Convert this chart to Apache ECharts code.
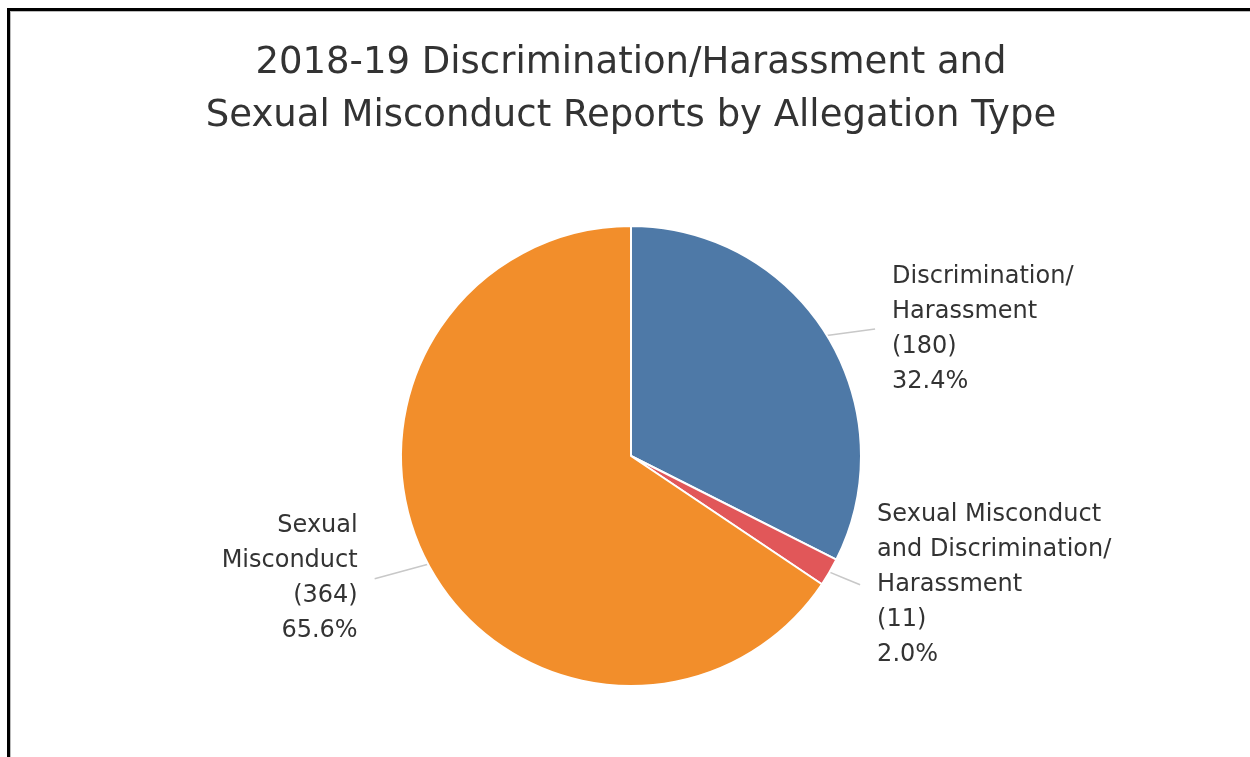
<!DOCTYPE html>
<html>
<head>
<meta charset="utf-8">
<script src="https://cdn.jsdelivr.net/npm/echarts@6/dist/echarts.min.js"></script>
<style>
  html, body { margin: 0; padding: 0; background: #fff; }
  #chart { width: 1250px; height: 757px; position: relative; }
  #frame { position: absolute; left: 7px; top: 8px; width: 1260px; height: 760px;
           border-left: 3px solid #000; border-top: 3px solid #000;
           box-shadow: inset 1px 1px 0 #bbb; pointer-events: none; z-index: 2; }
</style>
</head>
<body>
<div id="chart"></div>
<div id="frame"></div>
<script>
// ---- data ----
const titleLines = ['2018-19 Discrimination/Harassment and', 'Sexual Misconduct Reports by Allegation Type'];
const categories = ['Discrimination/Harassment', 'Sexual Misconduct and Discrimination/Harassment', 'Sexual Misconduct'];
const labelNames = ['Discrimination/\nHarassment', 'Sexual Misconduct\nand Discrimination/\nHarassment', 'Sexual\nMisconduct'];
const counts = [180, 11, 364];
const colors = ['#4E79A7', '#E15759', '#F28E2B'];

// label line geometry per slice (style only)
const lineLen = [12, 25, 31];
const lineLen2 = [38, 9, 26];

const total = counts.reduce((a, b) => a + b, 0);
const seriesData = categories.map((c, i) => ({
  name: c,
  value: counts[i],
  itemStyle: { color: colors[i] },
  labelLine: { length: lineLen[i], length2: lineLen2[i] }
}));

const chart = echarts.init(document.getElementById('chart'), null, { renderer: 'canvas' });
chart.setOption({
  animation: false,
  backgroundColor: '#fff',
  title: {
    text: titleLines.join('\n'),
    left: 626,
    top: 32,
    textAlign: 'center',
    textStyle: {
      fontFamily: 'DejaVu Sans',
      fontSize: 37,
      fontWeight: 'normal',
      color: '#333',
      lineHeight: 53
    }
  },
  series: [{
    type: 'pie',
    center: [631, 456],
    radius: [0, 230],
    startAngle: 90,
    clockwise: true,
    avoidLabelOverlap: false,
    itemStyle: { borderColor: '#fff', borderWidth: 2 },
    label: {
      show: true,
      position: 'outside',
      distanceToLabelLine: 17,
      fontFamily: 'DejaVu Sans',
      fontSize: 24,
      lineHeight: 35,
      color: '#333',
      formatter: function (p) {
        return labelNames[p.dataIndex] + '\n(' + p.value + ')\n' + (p.value / total * 100).toFixed(1) + '%';
      }
    },
    labelLine: { show: true, smooth: false, lineStyle: { color: '#c8c8c8', width: 1.5 } },
    labelLayout: function (params) {
      const pts = params.labelLinePoints;
      if (!pts || pts.length < 3) return {};
      const a = pts[0], b = pts[pts.length - 1];
      return { labelLinePoints: [a, [(a[0] + b[0]) / 2, (a[1] + b[1]) / 2], b] };
    },
    emphasis: { disabled: true },
    data: seriesData
  }]
});
</script>
</body>
</html>
